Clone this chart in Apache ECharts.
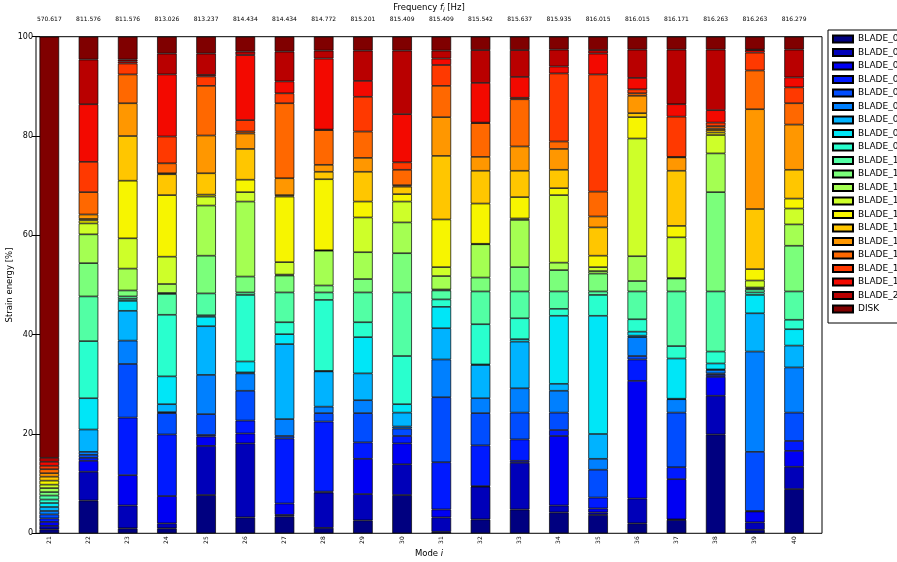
<!DOCTYPE html>
<html><head><meta charset="utf-8">
<script src="https://cdn.jsdelivr.net/npm/echarts@6/dist/echarts.min.js"></script>
<style>html,body{margin:0;padding:0;background:#fff}#c{width:897px;height:562px}</style>
</head><body><div id="c"></div>
<script>
const modes = ['21','22','23','24','25','26','27','28','29','30','31','32','33','34','35','36','37','38','39','40'];
const frequencies = ['570.617','811.576','811.576','813.026','813.237','814.434','814.434','814.772','815.201','815.409','815.409','815.542','815.637','815.935','816.015','816.015','816.171','816.263','816.263','816.279'];
const seriesNames = ['BLADE_01','BLADE_02','BLADE_03','BLADE_04','BLADE_05','BLADE_06','BLADE_07','BLADE_08','BLADE_09','BLADE_10','BLADE_11','BLADE_12','BLADE_13','BLADE_14','BLADE_15','BLADE_16','BLADE_17','BLADE_18','BLADE_19','BLADE_20','DISK'];
const seriesColors = ['#000080','#0000b9','#0000f3','#001aff','#004dff','#0080ff','#00b3ff','#00e6f7','#29ffce','#52ffa4','#7bff7b','#a4ff52','#ceff29','#f7f500','#ffc600','#ff9700','#ff6800','#ff3900','#f30900','#b90000','#800000'];
const yTicks = [0, 20, 40, 60, 80, 100];

// cumulative top of each stacked segment (BLADE_01 .. DISK), in %, per mode
const cum21 = [0.8,1.5,2.3,3.0,3.8,4.5,5.3,6.1,6.8,7.6,8.3,9.1,9.8,10.6,11.4,12.1,12.9,13.6,14.4,15.2,100];
const cum22 = [6.6,12.4,14.6,15.2,15.8,16.4,20.9,27.2,38.7,47.7,54.4,60.2,62.4,63.0,63.3,64.2,68.7,74.8,86.4,95.4,100];
const cum23 = [1.0,5.6,11.7,23.3,34.1,38.8,44.8,46.8,47.2,47.7,48.9,53.3,59.4,71.0,80.0,86.6,92.4,94.6,95.0,95.4,100];
const cum24 = [1.0,2.0,7.5,19.9,24.2,24.4,26.0,31.6,44.0,48.2,48.4,50.2,55.7,68.1,72.3,72.5,74.5,79.9,92.4,96.6,100];
const cum25 = [7.7,17.6,19.5,19.8,24.0,31.9,41.7,43.6,43.9,48.3,55.9,66.0,67.8,68.2,72.5,80.1,90.1,92.0,92.3,96.6,100];
const cum26 = [3.2,18.1,20.1,22.7,28.7,32.2,32.4,34.6,48.0,48.5,51.7,66.8,68.7,71.2,77.4,80.5,80.9,83.2,96.3,97.0,100];
const cum27 = [3.4,3.7,6.0,19.1,19.6,23.0,38.1,40.1,42.5,48.5,51.9,52.1,54.6,67.8,68.1,71.5,86.6,88.6,91.0,97.0,100];
const cum28 = [1.1,8.2,8.4,22.5,24.2,25.5,32.6,32.7,47.0,48.5,49.9,56.9,57.0,71.3,72.8,74.2,81.2,81.3,95.6,97.2,100];
const cum29 = [2.6,7.9,15.0,18.3,24.2,26.8,32.2,39.5,42.5,48.5,51.2,56.6,63.6,66.8,72.8,75.6,80.9,87.9,91.1,97.2,100];
const cum30 = [7.7,13.9,18.1,19.6,21.1,21.5,24.3,26.0,35.7,48.5,56.4,62.6,66.8,68.3,69.8,70.1,73.2,74.7,84.4,97.2,100];
const cum31 = [0.3,3.2,4.8,14.3,27.4,35.0,41.3,45.6,47.1,48.9,49.1,51.8,53.6,63.2,76.0,83.8,90.1,94.3,95.6,97.2,100];
const cum32 = [2.8,9.4,9.5,17.7,24.2,27.2,33.9,34.0,42.1,48.7,51.5,58.2,58.3,66.4,73.0,75.8,82.6,82.7,90.7,97.3,100];
const cum33 = [4.8,14.2,14.6,18.9,24.3,29.2,38.6,39.1,43.3,48.7,53.6,63.1,63.4,67.7,73.0,77.9,87.4,87.7,91.9,97.3,100];
const cum34 = [4.2,5.6,19.6,20.8,24.3,28.7,30.1,43.8,45.2,48.7,53.0,54.5,68.1,69.5,73.2,77.4,78.9,92.6,94.0,97.4,100];
const cum35 = [3.7,4.2,5.0,7.2,12.8,15.0,20.0,43.8,48.0,48.7,52.3,52.8,53.6,55.9,61.6,63.8,68.8,92.4,96.6,97.3,100];
const cum36 = [2.0,7.0,30.7,35.0,35.7,39.5,39.8,40.6,43.1,48.7,50.8,55.8,79.5,83.8,84.6,88.1,88.6,89.4,91.7,97.4,100];
const cum37 = [2.7,2.8,10.9,13.3,24.3,27.0,27.1,35.2,37.7,48.7,51.3,51.4,59.6,61.9,73.0,75.7,75.8,83.9,86.4,97.4,100];
const cum38 = [19.9,27.7,31.5,31.9,32.2,32.9,33.0,34.2,36.6,48.7,68.7,76.5,80.2,80.7,81.2,81.5,82.0,82.7,85.2,97.4,100];
const cum39 = [0.7,2.2,4.4,4.5,16.4,36.6,44.3,48.0,48.5,49.1,49.3,49.5,50.9,53.2,65.3,85.4,93.2,96.8,97.3,97.4,100];
const cum40 = [8.9,13.4,16.6,18.6,24.3,33.4,37.8,41.1,43.0,48.7,57.9,62.2,65.4,67.4,73.2,82.3,86.6,89.8,91.8,97.4,100];

const cumulative = [cum21,cum22,cum23,cum24,cum25,cum26,cum27,cum28,cum29,cum30,cum31,cum32,cum33,cum34,cum35,cum36,cum37,cum38,cum39,cum40];
const segments = seriesNames.map((n, s) => cumulative.map(c => +(c[s] - (s ? c[s - 1] : 0)).toFixed(2)));

const FONT = 'DejaVu Sans';
const PT = 36.7, PH = 496.6;
const chart = echarts.init(document.getElementById('c'), null, {renderer: 'canvas'});
chart.setOption({
  animation: false,
  backgroundColor: '#fff',
  textStyle: {fontFamily: FONT, color: '#000'},
  grid: [
    {left: 29.7, top: PT, width: 784, height: PH, outerBoundsMode: 'none', containLabel: false},
    {left: 36, top: PT, width: 786, height: PH, outerBoundsMode: 'none', containLabel: false,
     show: true, borderColor: '#000', borderWidth: 1, backgroundColor: 'transparent'}
  ],
  legend: {
    orient: 'vertical', left: 828, top: 30,
    data: seriesNames, icon: 'rect', itemWidth: 20, itemHeight: 7, itemGap: 3.5,
    padding: [4, 30, 9, 4], borderColor: '#000', borderWidth: 1, backgroundColor: '#fff',
    textStyle: {fontFamily: FONT, fontSize: 9, color: '#000', lineHeight: 10},
    selectedMode: false
  },
  xAxis: [
    {type: 'category', gridIndex: 0, position: 'bottom', data: modes,
     axisLine: {show: false}, axisTick: {inside: true, length: 4, alignWithLabel: true, lineStyle: {color: '#000'}},
     axisLabel: {rotate: 90, fontSize: 6, margin: 3, color: '#000', fontFamily: FONT}},
    {type: 'category', gridIndex: 0, position: 'top', data: frequencies,
     axisLine: {show: false}, axisTick: {inside: true, length: 4, alignWithLabel: true, lineStyle: {color: '#000'}},
     axisLabel: {fontSize: 6, margin: 14, color: '#000', fontFamily: FONT}},
    {type: 'value', gridIndex: 1, position: 'bottom', min: 0, max: 1,
     axisLine: {show: false}, axisTick: {show: false}, axisLabel: {show: false}, splitLine: {show: false},
     name: '{a|Mode }{i|i}', nameLocation: 'middle', nameGap: 16, nameMoveOverlap: false,
     nameTextStyle: {rich: {a: {fontSize: 8.5, fontFamily: FONT, color: '#000'}, i: {fontSize: 8.5, fontFamily: FONT, fontStyle: 'italic', color: '#000'}}}},
    {type: 'value', gridIndex: 1, position: 'top', min: 0, max: 1,
     axisLine: {show: false}, axisTick: {show: false}, axisLabel: {show: false}, splitLine: {show: false},
     name: '{a|Frequency }{i|f}{s|i}{a| [Hz]}', nameLocation: 'middle', nameGap: 23, nameMoveOverlap: false,
     nameTextStyle: {rich: {
       a: {fontSize: 8.5, fontFamily: FONT, color: '#000'},
       i: {fontSize: 8.5, fontFamily: FONT, fontStyle: 'italic', color: '#000'},
       s: {fontSize: 6, fontFamily: FONT, fontStyle: 'italic', color: '#000', padding: [5, 0, 0, 0]}}}}
  ],
  yAxis: [
    {type: 'value', gridIndex: 0, min: 0, max: 100, show: false},
    {type: 'value', gridIndex: 1, position: 'left', min: 0, max: 100, interval: 20,
     axisLine: {show: false}, splitLine: {show: false},
     axisTick: {inside: true, length: 4, lineStyle: {color: '#000'}},
     axisLabel: {fontSize: 8, margin: 3, color: '#000', fontFamily: FONT, align: 'right', verticalAlign: 'middle',
                 formatter: v => yTicks.includes(v) ? String(v) : ''},
     name: 'Strain energy [%]', nameLocation: 'middle', nameGap: 22, nameMoveOverlap: false,
     nameTextStyle: {fontSize: 8.5, fontFamily: FONT, color: '#000'}},
    {type: 'value', gridIndex: 1, position: 'right', min: 0, max: 100, interval: 20,
     axisLine: {show: false}, splitLine: {show: false},
     axisTick: {inside: true, length: 4, lineStyle: {color: '#000'}},
     axisLabel: {show: false}}
  ],
  series: seriesNames.map((name, i) => ({
    name, type: 'bar', stack: 'total', xAxisIndex: 0, yAxisIndex: 0,
    barWidth: '50%', data: segments[i],
    itemStyle: {color: seriesColors[i], borderColor: '#000', borderWidth: 0.7},
    emphasis: {disabled: true}
  }))
});
</script></body></html>
